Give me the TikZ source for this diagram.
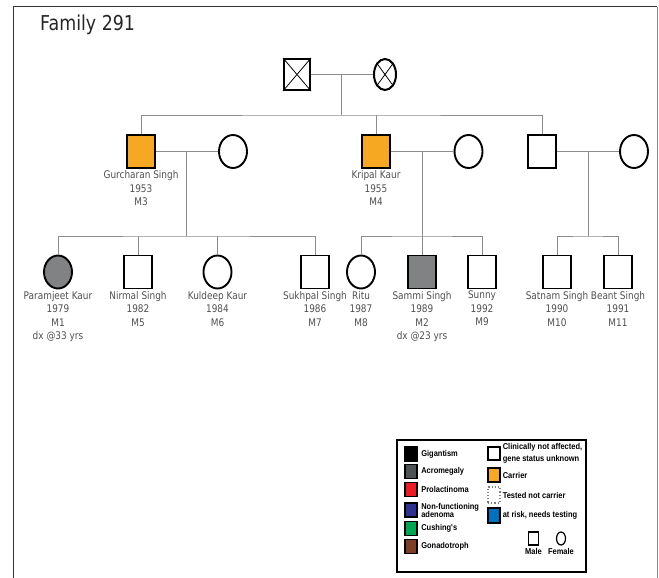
\documentclass[tikz,border=0pt]{standalone}
\usepackage{fontspec}
\usepackage{xcolor}
\usetikzlibrary{positioning,shapes.geometric}
\newfontfamily\pedfont[FakeStretch=0.85]{DejaVu Sans}
\newfontfamily\legfont[FakeStretch=0.88]{Liberation Sans}
\definecolor{carrier}{RGB}{247,168,35}
\definecolor{affected}{RGB}{128,130,132}
\definecolor{acro}{RGB}{77,83,84}
\definecolor{prl}{RGB}{237,28,36}
\definecolor{nfa}{RGB}{46,49,146}
\definecolor{cush}{RGB}{0,166,81}
\definecolor{gonad}{RGB}{125,62,40}
\definecolor{atrisk}{RGB}{0,112,192}
\definecolor{relline}{RGB}{140,140,140}
\definecolor{lbltext}{RGB}{80,80,80}

\begin{document}
\begin{tikzpicture}[x=1pt, y=-1pt,
  male/.style={draw, rectangle, line width=1.9pt, minimum width=28pt,
               minimum height=33pt, inner sep=0pt},
  female/.style={draw, ellipse, line width=1.9pt, minimum width=28pt,
                 minimum height=33pt, inner sep=0pt},
  lbl/.style={inner sep=0pt, align=center, text=lbltext,
              font=\pedfont\fontsize{10.5}{13.5}\selectfont},
  rel/.style={draw=relline, line width=0.9pt},
  swatch/.style={draw, line width=1.2pt, minimum width=12pt,
                 minimum height=14pt, inner sep=0pt},
  legtxt/.style={inner sep=0pt, align=left,
                 font=\legfont\bfseries\fontsize{8.5}{12}\selectfont}
]
\useasboundingbox (0,0) rectangle (659,578);
% frame
\draw[black!80, line width=1pt] (13,578) -- (13,7) -- (657,7);
\draw[black!45, line width=1pt] (657,7) -- (657,578);
\node[anchor=west, inner sep=0pt, font=\pedfont\fontsize{20.5}{24}\selectfont,
      text=black!85] (title) at (40,25) {Family 291};

% generation I
\node[male, line width=2pt, minimum width=26pt, minimum height=31pt] (gf) at (297,74.5) {};
\node[female, line width=2pt, minimum width=22pt, minimum height=31pt] (gm) at (385,74.5) {};
\draw[line width=0.8pt] (gf.north west) -- (gf.south east) (gf.north east) -- (gf.south west);
\draw[line width=0.8pt] (gm.north west) -- (gm.south east) (gm.north east) -- (gm.south west);
\coordinate (c1) at (341,74.5);
\coordinate (s1) at (341,115);
\draw[rel] (gf) -- (gm);
\draw[rel] (c1) -- (s1);

% generation II
\node[male, fill=carrier] (m3) at (141,151.5) {};
\node[female] (w3) at (233,151.5) {};
\node[male, fill=carrier] (m4) at (376,151.5) {};
\node[female] (w4) at (468.5,151.5) {};
\node[male] (m12) at (542,151.5) {};
\node[female] (w12) at (634,151.5) {};
\node[lbl, below=1.5pt of m3] (m3txt) {Gurcharan Singh\\1953\\M3};
\node[lbl, below=1.5pt of m4] (m4txt) {Kripal Kaur\\1955\\M4};
\draw[rel] (m3.north) |- (s1) -| (m12.north);
\draw[rel] (m4.north) -- (m4.north |- s1);
\draw[rel] (m3) -- (w3);
\draw[rel] (m4) -- (w4);
\draw[rel] (m12) -- (w12);
\coordinate (c3) at (186,151.5);
\coordinate (s3) at (186,236);
\coordinate (c4) at (422,151.5);
\coordinate (s4) at (422,236);
\coordinate (c12) at (588,151.5);
\coordinate (s12) at (588,236);
\draw[rel] (c3) -- (s3);
\draw[rel] (c4) -- (s4);
\draw[rel] (c12) -- (s12);

% generation III
\node[female, fill=affected] (p1) at (58,272) {};
\node[male] (m5) at (138,272) {};
\node[female] (m6) at (217.5,272) {};
\node[male] (m7) at (315,272) {};
\node[female] (m8) at (361,272) {};
\node[male, fill=affected] (m2) at (422,272) {};
\node[male] (m9) at (482,272) {};
\node[male] (m10) at (557,272) {};
\node[male] (m11) at (618,272) {};
\node[lbl, below=1.5pt of p1] (p1txt) {Paramjeet Kaur\\1979\\M1\\dx @33 yrs};
\node[lbl, below=1.5pt of m5] (m5txt) {Nirmal Singh\\1982\\M5};
\node[lbl, below=1.5pt of m6] (m6txt) {Kuldeep Kaur\\1984\\M6};
\node[lbl, below=1.5pt of m7] (m7txt) {Sukhpal Singh\\1986\\M7};
\node[lbl, below=1.5pt of m8] (m8txt) {Ritu\\1987\\M8};
\node[lbl, below=1.5pt of m2] (m2txt) {Sammi Singh\\1989\\M2\\dx @23 yrs};
\node[lbl, below=1.5pt of m9] (m9txt) {Sunny\\1992\\M9};
\node[lbl, below=1.5pt of m10] (m10txt) {Satnam Singh\\1990\\M10};
\node[lbl, below=1.5pt of m11] (m11txt) {Beant Singh\\1991\\M11};
\draw[rel] (p1.north) |- (s3) -| (m7.north);
\draw[rel] (m5.north) -- (m5.north |- s3);
\draw[rel] (m6.north) -- (m6.north |- s3);
\draw[rel] (m8.north) |- (s4) -| (m9.north);
\draw[rel] (m2.north) -- (s4);
\draw[rel] (m10.north) |- (s12) -| (m11.north);

% legend
\draw[line width=1.2pt] (397,440) rectangle (586,572);
\node[swatch, fill=black] (lg1) at (411,454) {};
\node[swatch, fill=acro] (lg2) at (411,471.5) {};
\node[swatch, fill=prl] (lg3) at (411,489.5) {};
\node[swatch, fill=nfa] (lg4) at (411,510) {};
\node[swatch, fill=cush] (lg5) at (411,528.5) {};
\node[swatch, fill=gonad] (lg6) at (411,546.5) {};
\node[legtxt, right=3.5pt of lg1] (lt1) {Gigantism};
\node[legtxt, right=3.5pt of lg2] (lt2) {Acromegaly};
\node[legtxt, right=3.5pt of lg3] (lt3) {Prolactinoma};
\node[legtxt, right=3.5pt of lg4, font=\legfont\bfseries\fontsize{8.5}{8}\selectfont] (lt4) {Non-functioning\\adenoma};
\node[legtxt, right=3.5pt of lg5] (lt5) {Cushing's};
\node[legtxt, right=3.5pt of lg6] (lt6) {Gonadotroph};
\node[swatch, minimum height=13pt] (lg7) at (494,453.5) {};
\node[swatch, fill=carrier] (lg8) at (494,475) {};
\node[swatch, draw=black!50, dotted, minimum height=16pt] (lg9) at (494,495) {};
\node[swatch, fill=atrisk, minimum height=15pt] (lg10) at (494,515.5) {};
\node[legtxt, right=2pt of lg7] (lt7) {Clinically not affected,\\gene status unknown};
\node[legtxt, right=2pt of lg8] (lt8) {Carrier};
\node[legtxt, right=2pt of lg9] (lt9) {Tested not carrier};
\node[legtxt, right=2pt of lg10] (lt10) {at risk, needs testing};
\node[swatch, minimum width=10pt, minimum height=13pt] (lgm) at (533.5,538.5) {};
\node[draw, ellipse, line width=1.2pt, minimum width=9pt, minimum height=13pt,
      inner sep=0pt] (lgf) at (561,538.5) {};
\node[legtxt, below=3pt of lgm] (ltm) {Male};
\node[legtxt, below=3pt of lgf] (ltf) {Female};
\end{tikzpicture}
\end{document}
